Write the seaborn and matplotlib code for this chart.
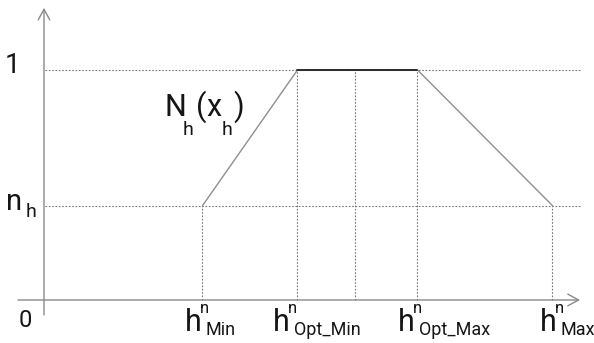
import numpy as np
import pandas as pd
import seaborn as sns
import matplotlib.pyplot as plt

# membership function breakpoints (x in arbitrary units, y = membership)
x_points = [3.15, 5.05, 7.45, 10.15]
y_points = [0.41, 1.0, 1.0, 0.41]
x_mid = 6.2
n_h = 0.41

x_subs = ["Min", "Opt_Min", "Opt_Max", "Max"]
x_label_pos = [2.80, 4.56, 7.06, 9.90]

sns.set_style("white")
plt.rcParams["font.family"] = ["Roboto", "DejaVu Sans"]

fig = plt.figure(figsize=(5.94, 3.43), dpi=100)
ax = fig.add_axes([0, 0, 1, 1])
ax.set_xlim(-0.9, 10.98)
ax.set_ylim(-0.187, 1.304)
ax.axis("off")

grey = "#8a8a8a"
ink = "#151515"
dot = dict(color="#777777", lw=0.8, ls=(0, (1.5, 1.5)))


def pieces(x, y, parts):
    # parts: (text, dx px, dy px, size) relative to a left/baseline anchor
    for txt, dx, dy, size in parts:
        ax.annotate(txt, (x, y), xytext=(dx * 0.72, dy * 0.72),
                    textcoords="offset points", fontsize=size, ha="left",
                    va="baseline", color=ink)


# axes with open arrow heads
arrow = dict(arrowstyle="->,head_length=0.55,head_width=0.3", color=grey,
             lw=1.0, mutation_scale=14, shrinkA=0, shrinkB=0)
ax.annotate("", xy=(10.7, 0), xytext=(-0.54, 0), arrowprops=arrow)
ax.annotate("", xy=(-0.02, 1.27), xytext=(-0.02, -0.065), arrowprops=arrow)

# reference dotted lines
ax.plot([0, 10.7], [1, 1], **dot)
ax.plot([0, 10.7], [n_h, n_h], **dot)
ax.plot([x_points[0], x_points[0]], [0, n_h], **dot)
ax.plot([x_points[3], x_points[3]], [0, n_h], **dot)
for xv in [x_points[1], x_mid, x_points[2]]:
    ax.plot([xv, xv], [0, 1], **dot)

# trapezoid
df = pd.DataFrame({"x": x_points, "y": y_points})
sns.lineplot(data=df, x="x", y="y", ax=ax, color="#8f8f8f", lw=1.0, sort=False)
ax.plot(x_points[1:3], y_points[1:3], color="#222222", lw=1.3)

# labels
ax.text(-0.64, 0.987, "1", fontsize=20, ha="center", va="baseline", color=ink)
ax.text(-0.4, -0.117, "0", fontsize=17, ha="center", va="baseline", color=ink)
pieces(-0.78, 0.391, [("n", 0, 0, 21), ("h", 20, -7, 14)])
for sub, xp in zip(x_subs, x_label_pos):
    pieces(xp, -0.135, [("h", 0, 0, 22), ("n", 15, 18, 12), (sub, 21, -4, 13)])
pieces(2.40, 0.8, [("N", 0, 0, 22), ("h", 18, -19, 14), ("(", 31, 0, 22),
                   ("x", 41, 0, 22), ("h", 57, -19, 14), (")", 68, 0, 22)])

plt.savefig("out.png", dpi=100)
